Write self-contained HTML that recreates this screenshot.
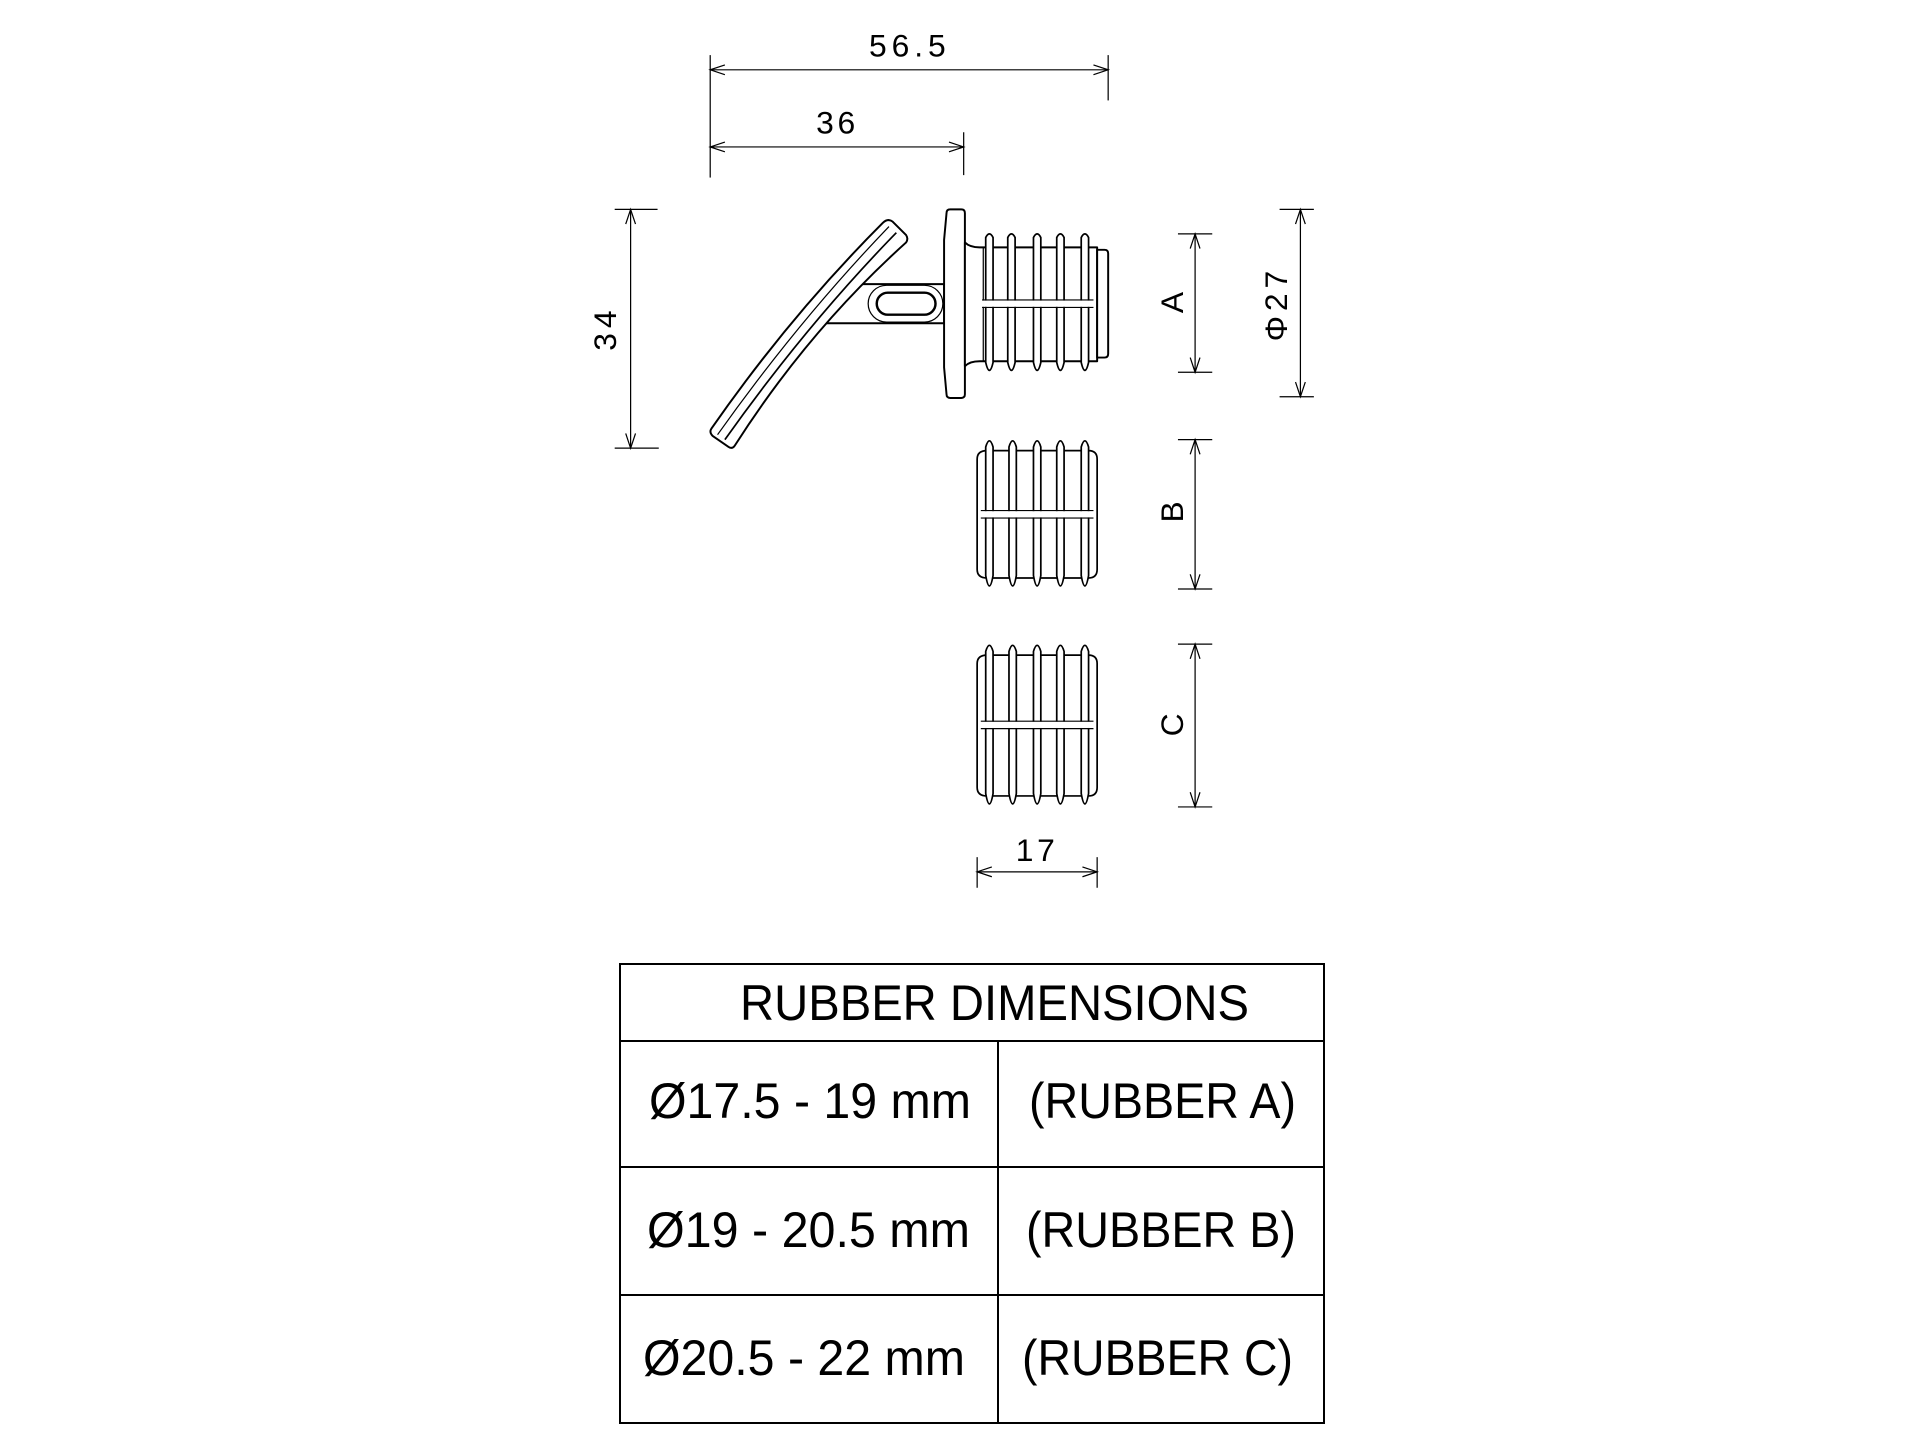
<!DOCTYPE html>
<html><head><meta charset="utf-8"><style>html,body{margin:0;padding:0;background:#fff}svg{display:block}</style></head>
<body>
<svg width="1920" height="1453" viewBox="0 0 1568 1186.6" xmlns="http://www.w3.org/2000/svg" font-family="Liberation Sans, sans-serif">
<rect x="0" y="0" width="1568" height="1187" fill="#fff"/>
<g stroke="#000" stroke-width="1" fill="none">
<line x1="580" y1="45" x2="580" y2="145"/><line x1="905" y1="45" x2="905" y2="82"/>
<line x1="580" y1="57" x2="905" y2="57"/>
<path d="M592,53 L580,57 L592,61 M893,53 L905,57 L893,61"/>
<line x1="787" y1="108" x2="787" y2="143"/>
<line x1="580" y1="120" x2="787" y2="120"/>
<path d="M592,116 L580,120 L592,124 M775,116 L787,120 L775,124"/>
<line x1="502" y1="171" x2="537" y2="171"/><line x1="502" y1="366" x2="538" y2="366"/>
<line x1="515" y1="171" x2="515" y2="366"/>
<path d="M511,183 L515,171 L519,183 M511,354 L515,366 L519,354"/>
<line x1="962" y1="191" x2="990" y2="191"/><line x1="962" y1="304" x2="990" y2="304"/>
<line x1="976" y1="191" x2="976" y2="304"/>
<path d="M972,203 L976,191 L980,203 M972,292 L976,304 L980,292"/>
<line x1="1045" y1="171" x2="1073" y2="171"/><line x1="1045" y1="324" x2="1073" y2="324"/>
<line x1="1062" y1="171" x2="1062" y2="324"/>
<path d="M1058,183 L1062,171 L1066,183 M1058,312 L1062,324 L1066,312"/>
<line x1="962" y1="359" x2="990" y2="359"/><line x1="962" y1="481" x2="990" y2="481"/>
<line x1="976" y1="359" x2="976" y2="481"/>
<path d="M972,371 L976,359 L980,371 M972,469 L976,481 L980,469"/>
<line x1="962" y1="526" x2="990" y2="526"/><line x1="962" y1="659" x2="990" y2="659"/>
<line x1="976" y1="526" x2="976" y2="659"/>
<path d="M972,538 L976,526 L980,538 M972,647 L976,659 L980,647"/>
<line x1="798" y1="700" x2="798" y2="725"/><line x1="896" y1="700" x2="896" y2="725"/>
<line x1="798" y1="712" x2="896" y2="712"/>
<path d="M810,708 L798,712 L810,716 M884,708 L896,712 L884,716"/>
</g>

<g font-size="26" fill="#000">
<text x="743" y="46" text-anchor="middle" letter-spacing="4">56.5</text>
<text x="684" y="109" text-anchor="middle" letter-spacing="3">36</text>
<text transform="translate(503,268) rotate(-90)" text-anchor="middle" letter-spacing="4">34</text>
<text transform="translate(966,247) rotate(-90)" text-anchor="middle">A</text>
<text transform="translate(1051,248) rotate(-90)" text-anchor="middle" letter-spacing="4">&#934;27</text>
<text transform="translate(966,418) rotate(-90)" text-anchor="middle">B</text>
<text transform="translate(966,592) rotate(-90)" text-anchor="middle">C</text>
<text x="847" y="703" text-anchor="middle" letter-spacing="3">17</text>
</g>

<g stroke="#000" stroke-width="1.6" fill="#fff" stroke-linejoin="round">
<path d="M695,232 L771,232 L771,264 L672,264 Z"/>
<rect x="709" y="233" width="61" height="30" rx="15" stroke-width="1"/>
<rect x="716" y="239" width="48" height="18" rx="9" stroke-width="2"/>
<path d="M721,182 Q725,178 729,181 L740,192 Q742,195 740,198 Q660,270 600,364 Q598,367 595,365 L582,356 Q579,353 581,350 Q645,258 721,182 Z"/>
<path d="M726,185 Q652,262 586,355" fill="none" stroke-width="1"/>
<path d="M732,190 Q658,266 592,359" fill="none" stroke-width="1.4"/>
<path d="M776,171 L785,171 Q788,171 788,174 L788,322 Q788,325 785,325 L776,325 Q773,325 773,322 L771,300 L771,196 L773,174 Q773,171 776,171 Z"/>
<path d="M788,198 Q792,202 800,202 L896,202 L896,295 L800,295 Q792,295 788,299 Z"/>
<path d="M896,204 L902,204 Q905,204 905,207 L905,289 Q905,292 902,292 L896,292 Z"/>
<line x1="803" y1="202" x2="803" y2="295" stroke-width="1"/>
</g>
<g stroke="#000" fill="#fff" stroke-width="1.4">
<path d="M805,296 L805,194 Q808,188 811,194 L811,296 Q808,309 805,296 Z"/>
<path d="M823,296 L823,194 Q826,188 829,194 L829,296 Q826,309 823,296 Z"/>
<path d="M844,296 L844,194 Q847,188 850,194 L850,296 Q847,309 844,296 Z"/>
<path d="M863,296 L863,194 Q866,188 869,194 L869,296 Q866,309 863,296 Z"/>
<path d="M883,296 L883,194 Q886,188 889,194 L889,296 Q886,309 883,296 Z"/>
<g stroke-width="1"><line x1="802" y1="245" x2="893" y2="245"/><line x1="802" y1="251" x2="893" y2="251"/></g>
<rect x="802" y="245.5" width="91" height="5" stroke="none"/>
</g>

<g stroke="#000" fill="#fff" stroke-width="1.4">
<path d="M798,375 Q798,368 806,368 L889,368 Q896,368 896,375 L896,465 Q896,472 889,472 L806,472 Q798,472 798,465 Z"/>
<path d="M805,470 L805,365 Q808,355 811,365 L811,470 Q808,487 805,470 Z"/>
<path d="M824,470 L824,365 Q827,355 830,365 L830,470 Q827,487 824,470 Z"/>
<path d="M844,470 L844,365 Q847,355 850,365 L850,470 Q847,487 844,470 Z"/>
<path d="M863,470 L863,365 Q866,355 869,365 L869,470 Q866,487 863,470 Z"/>
<path d="M883,470 L883,365 Q886,355 889,365 L889,470 Q886,487 883,470 Z"/>
<g stroke-width="1"><line x1="801" y1="417" x2="893" y2="417"/><line x1="801" y1="423" x2="893" y2="423"/></g>
<rect x="801" y="417.5" width="92" height="5" stroke="none"/>
</g>

<g stroke="#000" fill="#fff" stroke-width="1.4">
<path d="M798,542 Q798,535 806,535 L889,535 Q896,535 896,542 L896,643 Q896,650 889,650 L806,650 Q798,650 798,643 Z"/>
<path d="M805,648 L805,532 Q808,522 811,532 L811,648 Q808,665 805,648 Z"/>
<path d="M824,648 L824,532 Q827,522 830,532 L830,648 Q827,665 824,648 Z"/>
<path d="M844,648 L844,532 Q847,522 850,532 L850,648 Q847,665 844,648 Z"/>
<path d="M863,648 L863,532 Q866,522 869,532 L869,648 Q866,665 863,648 Z"/>
<path d="M883,648 L883,532 Q886,522 889,532 L889,648 Q886,665 883,648 Z"/>
<g stroke-width="1"><line x1="801" y1="589" x2="893" y2="589"/><line x1="801" y1="595" x2="893" y2="595"/></g>
<rect x="801" y="589.5" width="92" height="5" stroke="none"/>
</g>
</svg>
<svg style="position:absolute;left:0;top:0" width="1920" height="1453" xmlns="http://www.w3.org/2000/svg" font-family="Liberation Sans, sans-serif">
<g stroke="#000" stroke-width="2" fill="none">
<rect x="620" y="964" width="704" height="459"/>
<line x1="620" y1="1041" x2="1324" y2="1041"/>
<line x1="620" y1="1167" x2="1324" y2="1167"/>
<line x1="620" y1="1295" x2="1324" y2="1295"/>
<line x1="998" y1="1041" x2="998" y2="1423"/>
</g>
<g fill="#000" font-size="50">
<text x="740" y="1020" textLength="509" lengthAdjust="spacingAndGlyphs">RUBBER DIMENSIONS</text>
<text x="649" y="1118" textLength="322" lengthAdjust="spacingAndGlyphs">Ø17.5 - 19 mm</text>
<text x="1029" y="1118" textLength="267" lengthAdjust="spacingAndGlyphs">(RUBBER A)</text>
<text x="647" y="1247" textLength="323" lengthAdjust="spacingAndGlyphs">Ø19 - 20.5 mm</text>
<text x="1026" y="1247" textLength="270" lengthAdjust="spacingAndGlyphs">(RUBBER B)</text>
<text x="643" y="1375" textLength="322" lengthAdjust="spacingAndGlyphs">Ø20.5 - 22 mm</text>
<text x="1022" y="1375" textLength="271" lengthAdjust="spacingAndGlyphs">(RUBBER C)</text>
</g>
</svg>
</body></html>
